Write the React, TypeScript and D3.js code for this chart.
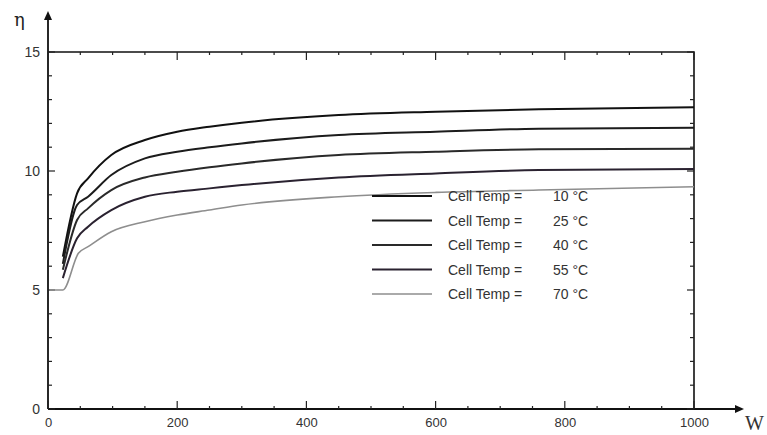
import * as d3 from 'd3';
import { useEffect, useRef } from 'react';

// irradiance W (W/m²) sample points
const wPoints = [23, 45, 62, 98, 150, 200, 250, 300, 450, 600, 760, 1000];
const eta10 = [6.4, 9.06, 9.69, 10.67, 11.3, 11.65, 11.86, 12.03, 12.35, 12.49, 12.59, 12.68];
const eta25 = [6.1, 8.57, 8.92, 9.83, 10.53, 10.81, 11.0, 11.16, 11.51, 11.65, 11.78, 11.82];
const eta40 = [5.85, 7.94, 8.43, 9.2, 9.73, 9.97, 10.16, 10.32, 10.67, 10.81, 10.91, 10.93];
const eta55 = [5.5, 7.17, 7.66, 8.36, 8.92, 9.13, 9.27, 9.41, 9.73, 9.9, 10.04, 10.08];
const w70 = [3, 23, 47, 62, 98, 150, 200, 250, 300, 450, 600, 760, 1000];
const eta70 = [5.0, 5.0, 6.54, 6.82, 7.45, 7.87, 8.15, 8.36, 8.57, 8.92, 9.1, 9.2, 9.34];

const temps = ['10', '25', '40', '55', '70'];
const colors = ['#111', '#1c1c1c', '#2a2a2a', '#2a2230', '#8e8e8e'];

const xLabels = [0, 200, 400, 600, 800, 1000];
const yLabels = [0, 5, 10, 15];

function App() {
    const svgRef = useRef(null);

    useEffect(() => {
        const svg = d3.select(svgRef.current);
        svg.selectAll('*').remove();

        const x = d3.scaleLinear().domain([0, 1000]).range([48, 694]);
        const y = d3.scaleLinear().domain([0, 15]).range([409, 52]);

        const series = [
            { w: wPoints, eta: eta10 },
            { w: wPoints, eta: eta25 },
            { w: wPoints, eta: eta40 },
            { w: wPoints, eta: eta55 },
            { w: w70, eta: eta70 },
        ];

        const font = '"Liberation Sans", Arial, sans-serif';

        // frame (top + right)
        svg.append('path')
            .attr('d', `M${x(0)},${y(15)}H${x(1000)}V${y(0)}`)
            .attr('fill', 'none')
            .attr('stroke', '#111')
            .attr('stroke-width', 1.6);

        // main axes with arrows
        svg.append('path')
            .attr('d', `M${x(0)},${y(0)}H${x(1000) + 46}`)
            .attr('stroke', '#111')
            .attr('stroke-width', 1.8);
        svg.append('path')
            .attr('d', `M${x(1000) + 50},${y(0)}l-9,-4v8z`)
            .attr('fill', '#111');
        svg.append('path')
            .attr('d', `M${x(0)},${y(0)}V${y(15) - 36}`)
            .attr('stroke', '#111')
            .attr('stroke-width', 1.8);
        svg.append('path')
            .attr('d', `M${x(0)},${y(15) - 41}l-4,9h8z`)
            .attr('fill', '#111');

        // ticks on x (bottom up, top down)
        const xTicks = d3.range(0, 1001, 50);
        const xTickLen = d => (d % 200 === 0 ? 8 : 3);
        svg.append('g').selectAll('line').data(xTicks).join('line')
            .attr('x1', d => x(d)).attr('x2', d => x(d))
            .attr('y1', y(0)).attr('y2', d => y(0) - xTickLen(d))
            .attr('stroke', '#222').attr('stroke-width', 1.2);
        svg.append('g').selectAll('line').data(xTicks).join('line')
            .attr('x1', d => x(d)).attr('x2', d => x(d))
            .attr('y1', y(15)).attr('y2', d => y(15) + xTickLen(d))
            .attr('stroke', '#222').attr('stroke-width', 1.2);

        // ticks on y (left right, right left)
        const yTicks = d3.range(0, 16, 1);
        const yTickLen = d => (d % 5 === 0 ? 7 : 4);
        svg.append('g').selectAll('line').data(yTicks).join('line')
            .attr('y1', d => y(d)).attr('y2', d => y(d))
            .attr('x1', x(0)).attr('x2', d => x(0) + yTickLen(d))
            .attr('stroke', '#222').attr('stroke-width', 1.2);
        svg.append('g').selectAll('line').data(yTicks).join('line')
            .attr('y1', d => y(d)).attr('y2', d => y(d))
            .attr('x1', x(1000)).attr('x2', d => x(1000) - yTickLen(d))
            .attr('stroke', '#222').attr('stroke-width', 1.2);

        // tick labels through d3 axes
        const xAxis = d3.axisBottom(x).tickValues(xLabels).tickFormat(d3.format('d')).tickSize(0).tickPadding(9);
        const gx = svg.append('g').attr('transform', `translate(0, ${y(0)})`).call(xAxis);
        gx.select('.domain').remove();
        gx.selectAll('text').attr('font-family', font).attr('font-size', 13).attr('fill', '#333');

        const yAxis = d3.axisLeft(y).tickValues(yLabels).tickSize(0).tickPadding(8);
        const gy = svg.append('g').attr('transform', `translate(${x(0)}, 0)`).call(yAxis);
        gy.select('.domain').remove();
        gy.selectAll('text').attr('font-family', font).attr('font-size', 14).attr('fill', '#333');

        // axis names
        svg.append('text')
            .attr('x', 14).attr('y', 26)
            .attr('font-family', '"DejaVu Serif", serif')
            .attr('font-size', 18).attr('fill', '#222')
            .text('η');
        svg.append('text')
            .attr('x', 745).attr('y', 430)
            .attr('font-family', '"Liberation Serif", serif')
            .attr('font-size', 20).attr('fill', '#333')
            .text('W');

        // curves
        const line = d3.line()
            .x(d => x(d[0]))
            .y(d => y(d[1]))
            .curve(d3.curveMonotoneX);

        series.forEach((s, i) => {
            svg.append('path')
                .datum(s.w.map((w, k) => [w, s.eta[k]]))
                .attr('d', line)
                .attr('fill', 'none')
                .attr('stroke', colors[i])
                .attr('stroke-width', i === 4 ? 1.6 : 2);
        });

        // legend
        const legY = d3.scaleLinear().domain([0, 4]).range([196, 294]);
        const leg = svg.append('g').selectAll('g').data(temps).join('g')
            .attr('transform', (d, i) => `translate(0, ${legY(i)})`);
        leg.append('line')
            .attr('x1', 372).attr('x2', 432)
            .attr('stroke', (d, i) => colors[i])
            .attr('stroke-width', (d, i) => (i === 4 ? 1.4 : 1.8));
        leg.append('text')
            .attr('x', 448).attr('y', 5)
            .attr('font-family', font).attr('font-size', 14).attr('fill', '#333')
            .text('Cell Temp =');
        leg.append('text')
            .attr('x', 553).attr('y', 5)
            .attr('font-family', font).attr('font-size', 14).attr('fill', '#333')
            .text(d => `${d} °C`);
    }, []);

    return (
        <div>
            <svg ref={svgRef} width={767} height={435}
                style={{ position: 'absolute', left: 0, top: 0, background: '#fff' }}></svg>
        </div>
    );
}

export default App;
